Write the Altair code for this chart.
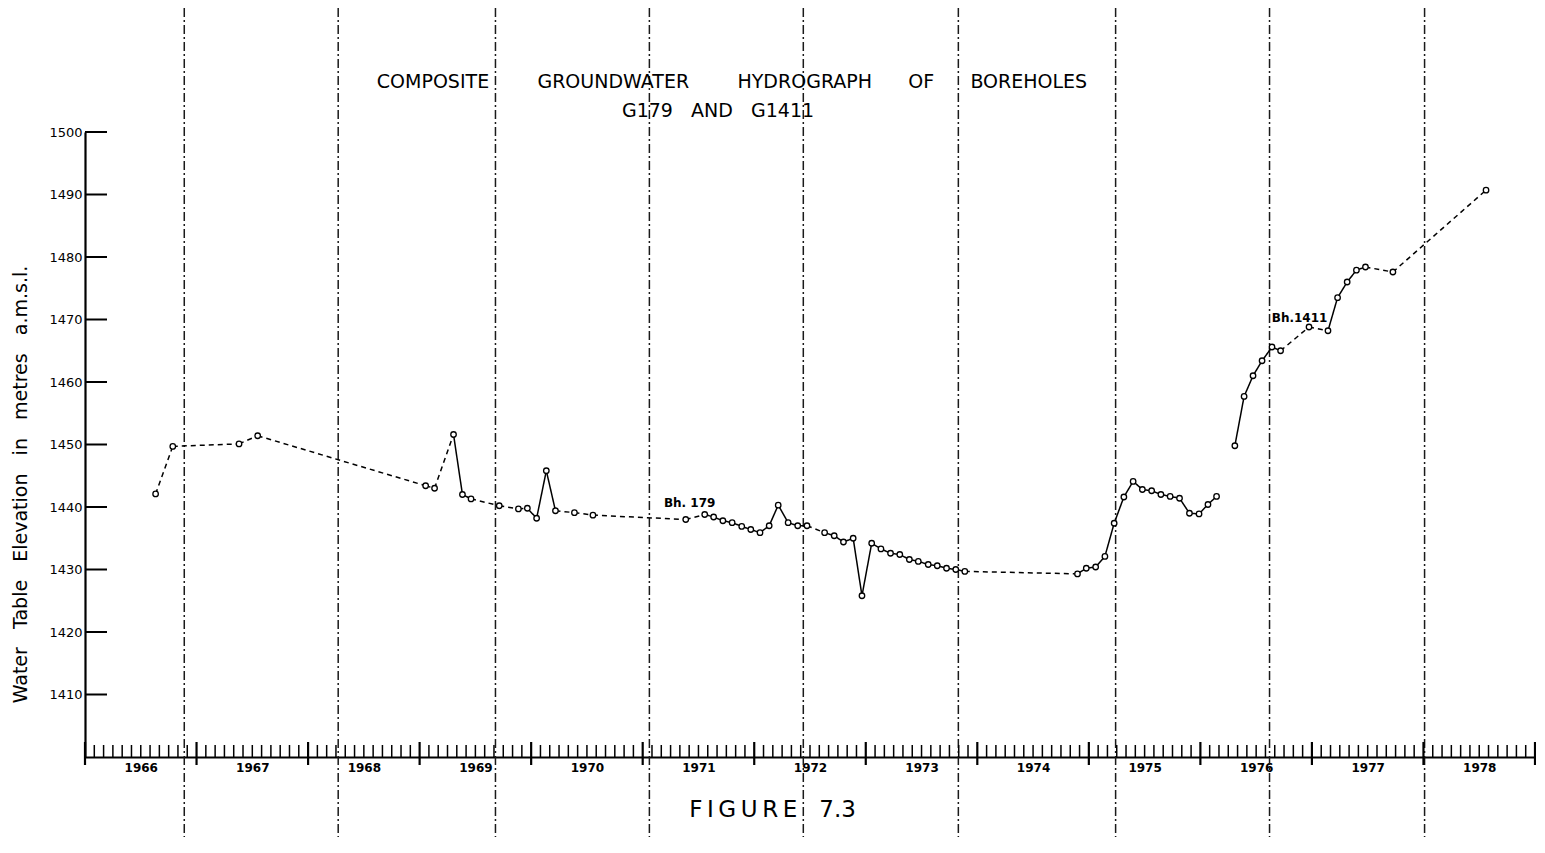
import altair as alt
import pandas as pd

# ---------------- data ----------------
# Borehole 179 (decimal years, water table elevation m a.m.s.l.)
bh179_year = [1966.633, 1966.787, 1967.381, 1967.548, 1969.054, 1969.134, 1969.304, 1969.384,
              1969.461, 1969.714, 1969.886, 1969.966, 1970.049, 1970.136, 1970.218, 1970.388,
              1970.554, 1971.386, 1971.556, 1971.636, 1971.719, 1971.802, 1971.888, 1971.969,
              1972.052, 1972.134, 1972.215, 1972.304, 1972.390, 1972.473, 1972.631, 1972.717,
              1972.800, 1972.887, 1972.966, 1973.053, 1973.136, 1973.222, 1973.305, 1973.391,
              1973.471, 1973.560, 1973.641, 1973.724, 1973.807, 1973.888, 1974.898, 1974.977,
              1975.061, 1975.144, 1975.227, 1975.314, 1975.397, 1975.480, 1975.563, 1975.646,
              1975.729, 1975.813, 1975.902, 1975.988, 1976.068, 1976.145]
bh179_elev = [1442.1, 1449.7, 1450.1, 1451.4, 1443.4, 1443.0, 1451.6, 1442.0,
              1441.3, 1440.2, 1439.7, 1439.8, 1438.2, 1445.8, 1439.4, 1439.1,
              1438.7, 1438.0, 1438.8, 1438.4, 1437.8, 1437.5, 1436.9, 1436.4,
              1435.9, 1437.0, 1440.3, 1437.5, 1437.0, 1437.0, 1435.9, 1435.4,
              1434.4, 1435.0, 1425.8, 1434.2, 1433.3, 1432.6, 1432.4, 1431.6,
              1431.3, 1430.8, 1430.6, 1430.2, 1430.0, 1429.7, 1429.3, 1430.2,
              1430.4, 1432.1, 1437.4, 1441.6, 1444.1, 1442.8, 1442.6, 1442.0,
              1441.7, 1441.4, 1439.0, 1438.9, 1440.4, 1441.7]
# style of each joining segment: s = solid, d = dashed
bh179_style = (["d"] * 6 + ["s"] * 2 + ["d"] * 3 + ["s"] * 3 + ["d"] * 3 +
               ["d"] + ["s"] * 11 + ["d"] + ["s"] * 15 + ["d"] +
               ["s"] * 15)

# Borehole 1411
bh1411_year = [1976.309, 1976.392, 1976.472, 1976.553, 1976.642, 1976.719, 1976.974,
               1977.144, 1977.230, 1977.316, 1977.399, 1977.480, 1977.726, 1978.561]
bh1411_elev = [1449.8, 1457.7, 1461.0, 1463.4, 1465.6, 1465.0, 1468.8,
               1468.2, 1473.5, 1476.0, 1477.9, 1478.4, 1477.6, 1490.7]
bh1411_style = ["s", "s", "s", "s", "s", "d", "d", "s", "s", "s", "s", "d", "d"]

label_text = ["Bh. 179", "Bh.1411"]
label_year = [1971.19, 1976.64]
label_elev = [1440.6, 1470.3]

title_words = ["COMPOSITE", "GROUNDWATER", "HYDROGRAPH", "OF", "BOREHOLES"]
subtitle_words = ["G179", "AND", "G1411"]

years = list(range(1966, 1979))                 # labelled years
year_bounds = list(range(1966, 1980))           # major tick positions
y_ticks = [1410, 1420, 1430, 1440, 1450, 1460, 1470, 1480, 1490, 1500]
sheet_lines = [1966.89, 1968.27, 1969.68, 1971.06, 1972.44, 1973.83, 1975.24, 1976.62, 1978.01]

# ---------------- tables ----------------
rows = []
seg = 0
for xs_, ys_, st_ in [(bh179_year, bh179_elev, bh179_style), (bh1411_year, bh1411_elev, bh1411_style)]:
    for i in range(len(xs_) - 1):
        for j in (i, i + 1):
            rows.append({"seg": seg, "year": xs_[j], "elev": ys_[j], "style": st_[i]})
        seg += 1
seg_df = pd.DataFrame(rows)
pts_df = pd.DataFrame({"year": bh179_year + bh1411_year, "elev": bh179_elev + bh1411_elev})
lab_df = pd.DataFrame({"text": label_text, "year": label_year, "elev": label_elev})
major_df = pd.DataFrame({"year": year_bounds})
minor_df = pd.DataFrame({"year": [y + m / 12 for y in years for m in range(1, 12)]})
ytick_df = pd.DataFrame({"elev": y_ticks})
sheet_df = pd.DataFrame({"year": sheet_lines})

NB = "\u00a0"
title_str = (NB * 8).join(title_words[:3]) + NB * 6 + title_words[3] + NB * 6 + title_words[4]
subtitle_str = (NB * 3).join(subtitle_words)

W, H = 1450, 625
PAD = {"left": 77, "right": 1, "top": 124, "bottom": 80}
FONT = "DejaVu Sans"

xscale = alt.Scale(domain=[1966, 1979], nice=False, zero=False)
yscale = alt.Scale(domain=[1400, 1500], nice=False, zero=False)

x_axis = alt.Axis(
    values=[y + 0.5 for y in years], labelExpr="format(floor(datum.value), 'd')",
    ticks=False, grid=False, domain=True, domainColor="black", domainWidth=2.2,
    labelFont=FONT, labelFontWeight="bold", labelFontSize=12, labelColor="black",
    labelPadding=5, labelFlush=False,
    title="F\u2009I\u2009G\u2009U\u2009R\u2009E" + NB * 3 + "7.3", titleFont=FONT,
    titleFontSize=23, titleFontWeight="normal", titleColor="black",
    titleX=687, titleY=52, titleAlign="center", titleBaseline="middle",
)
y_axis = alt.Axis(
    values=y_ticks, format="d", ticks=False, grid=False, domain=True, domainColor="black", domainWidth=2.2,
    labelFont=FONT, labelFontSize=13, labelColor="black", labelPadding=3,
    title=(NB * 3).join(["Water", "Table", "Elevation", "in", "metres", "a.m.s.l."]),
    titleFont=FONT, titleFontSize=19, titleFontWeight="normal", titleColor="black",
    titleX=-65, titleY=352, titleAngle=270, titleAlign="center", titleBaseline="middle",
)

X = lambda f: alt.X(f, type="quantitative", scale=xscale, axis=x_axis)
Y = lambda f: alt.Y(f, type="quantitative", scale=yscale, axis=y_axis)

sheet = alt.Chart(sheet_df).mark_rule(
    color="#1a1a1a", strokeWidth=1.5, strokeDash=[9, 3, 2, 3]
).encode(x=X("year"), y=alt.value(-PAD["top"]), y2=alt.value(H + PAD["bottom"]))

major = alt.Chart(major_df).mark_rule(color="black", strokeWidth=2.2).encode(
    x=X("year"), y=alt.value(H - 15), y2=alt.value(H + 8))
minor = alt.Chart(minor_df).mark_rule(color="black", strokeWidth=1.5).encode(
    x=X("year"), y=alt.value(H - 12), y2=alt.value(H))
yticks = alt.Chart(ytick_df).mark_rule(color="black", strokeWidth=2).encode(
    y=Y("elev"), x=alt.value(0), x2=alt.value(22))

lines = alt.Chart(seg_df).mark_line(color="black", strokeWidth=1.5).encode(
    x=X("year"), y=Y("elev"), detail="seg:N",
    strokeDash=alt.StrokeDash("style:N", scale=alt.Scale(domain=["s", "d"], range=[[1, 0], [5, 4]]), legend=None),
)
points = alt.Chart(pts_df).mark_point(
    shape="circle", fill="white", fillOpacity=1, stroke="black", strokeWidth=1.3, size=30, opacity=1
).encode(x=X("year"), y=Y("elev"))

labels = alt.Chart(lab_df).mark_text(
    align="left", baseline="middle", font=FONT, fontSize=12, fontWeight="bold", color="black"
).encode(x=X("year"), y=Y("elev"), text="text:N")

title_txt = alt.Chart(pd.DataFrame({"t": [title_str]})).mark_text(
    align="center", baseline="middle", font=FONT, fontSize=19, color="black"
).encode(text="t:N", x=alt.value(647), y=alt.value(-50))
subtitle_txt = alt.Chart(pd.DataFrame({"t": [subtitle_str]})).mark_text(
    align="center", baseline="middle", font=FONT, fontSize=19, color="black"
).encode(text="t:N", x=alt.value(633), y=alt.value(-21))

chart = alt.layer(sheet, major, minor, yticks, lines, points, labels, title_txt, subtitle_txt).properties(
    width=W, height=H,
    autosize=alt.AutoSizeParams(type="none"), padding=PAD,
).configure(background="white", view=alt.ViewConfig(stroke=None))

chart.save("out.html", embed_options={"renderer": "svg", "actions": False})
